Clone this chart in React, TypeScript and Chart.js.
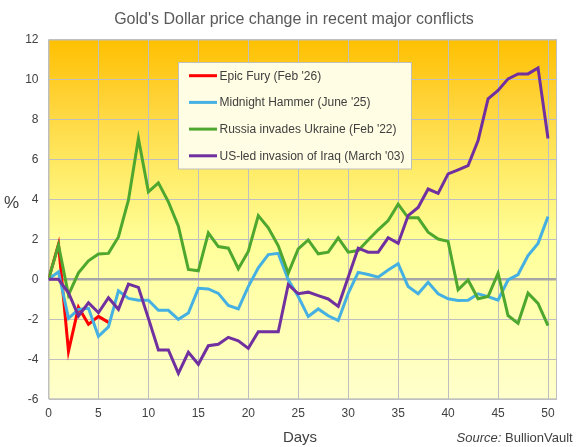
import { useEffect, useRef } from "react";
import { Chart, registerables } from "chart.js";

Chart.register(...registerables);

const TITLE = "Gold's Dollar price change in recent major conflicts";
const Y_TITLE = "%";
const X_TITLE = "Days";
const SOURCE_LABEL = "Source:";
const SOURCE_NAME = " BullionVault";

const SERIES_NAMES = [
  "Epic Fury (Feb '26)",
  "Midnight Hammer (June '25)",
  "Russia invades Ukraine (Feb '22)",
  "US-led invasion of Iraq (March '03)",
];
const SERIES_COLORS = ["#FF0000", "#45B0E1", "#4EA72E", "#7030A0"];

const EPIC_FURY = [0, 1.75, -3.6, -1.4, -2.25, -1.85, -2.15];

const MIDNIGHT_HAMMER = [
  0, 0.38, -1.95, -1.5, -1.45, -2.85, -2.38, -0.57, -0.95, -1.04,
  -1.04, -1.55, -1.55, -2.0, -1.68, -0.45, -0.48, -0.7, -1.3, -1.48,
  -0.36, 0.58, 1.24, 1.3, -0.02, -0.86, -1.86, -1.48, -1.82, -2.06,
  -0.7, 0.35, 0.24, 0.11, 0.47, 0.78, -0.36, -0.72, -0.15, -0.72,
  -0.97, -1.06, -1.04, -0.72, -0.86, -1.04, -0.03, 0.24, 1.19, 1.8,
  3.14,
];

const UKRAINE = [
  0, 1.72, -0.78, 0.33, 0.93, 1.27, 1.3, 2.12, 3.96, 7.05,
  4.38, 4.83, 3.88, 2.66, 0.5, 0.43, 2.32, 1.64, 1.56, 0.53,
  1.4, 3.19, 2.58, 1.68, 0.31, 1.52, 1.97, 1.28, 1.36, 2.08,
  1.36, 1.44, 1.97, 2.48, 2.94, 3.76, 3.08, 3.08, 2.36, 2.02,
  1.9, -0.52, -0.03, -0.97, -0.86, 0.31, -1.81, -2.2, -0.69, -1.2,
  -2.31,
];

const IRAQ = [
  0, 0, -0.67, -1.83, -1.17, -1.67, -0.92, -1.5, -0.24, -0.4,
  -1.95, -3.53, -3.53, -4.7, -3.65, -4.25, -3.32, -3.25, -2.9, -3.07,
  -3.45, -2.62, -2.62, -2.62, -0.26, -0.72, -0.64, -0.81, -0.98, -1.35,
  0.11, 1.56, 1.36, 1.36, 2.08, 1.8, 3.19, 3.6, 4.52, 4.3,
  5.28, 5.48, 5.69, 6.94, 9.03, 9.45, 10.03, 10.28, 10.28, 10.58,
  7.05,
];

const SERIES_VALUES = [EPIC_FURY, MIDNIGHT_HAMMER, UKRAINE, IRAQ];

const X_MIN = 0;
const X_MAX = 50.9;
const X_STEP = 5;
const Y_MIN = -6;
const Y_MAX = 12;
const Y_STEP = 2;

const FONT = '"Liberation Sans", Arial, sans-serif';
const TEXT_COLOR = "#404040";
const GRID_COLOR = "#BFBFBF";

const decorPlugin = {
  id: "decor",
  beforeDraw(chart: any) {
    const { ctx, chartArea } = chart;
    const { left, top, right, bottom } = chartArea;
    ctx.save();
    const g = ctx.createLinearGradient(0, top, 0, bottom);
    g.addColorStop(0, "#FFC000");
    g.addColorStop(0.18, "#FFD43A");
    g.addColorStop(0.36, "#FFEB66");
    g.addColorStop(0.56, "#FFFF99");
    g.addColorStop(1, "#FFFFCC");
    ctx.fillStyle = g;
    ctx.fillRect(left, top, right - left, bottom - top);
    ctx.restore();
  },
  beforeDatasetsDraw(chart: any) {
    const { ctx, chartArea } = chart;
    const { left, top, right, bottom } = chartArea;
    ctx.save();
    ctx.strokeStyle = GRID_COLOR;
    ctx.lineWidth = 1;
    ctx.strokeRect(left + 0.5, top + 0.5, right - left - 1, bottom - top - 1);
    ctx.restore();
  },
  afterDatasetsDraw(chart: any) {
    const { ctx } = chart;
    ctx.save();
    // legend box
    const bx = 178.5;
    const by = 62.5;
    const bw = 233;
    const bh = 106.5;
    ctx.fillStyle = "#FFFDE3";
    ctx.fillRect(bx, by, bw, bh);
    ctx.strokeStyle = GRID_COLOR;
    ctx.lineWidth = 1;
    ctx.strokeRect(bx, by, bw, bh);
    ctx.font = `12px ${FONT}`;
    ctx.textBaseline = "middle";
    ctx.textAlign = "left";
    chart.data.datasets.forEach((ds: any, i: number) => {
      const y = 75.7 + i * 26.7;
      ctx.strokeStyle = ds.borderColor;
      ctx.lineWidth = 3;
      ctx.beginPath();
      ctx.moveTo(189, y);
      ctx.lineTo(217, y);
      ctx.stroke();
      ctx.fillStyle = TEXT_COLOR;
      ctx.fillText(ds.label, 219.5, y + 0.5);
    });
    ctx.restore();
  },
  afterDraw(chart: any) {
    const { ctx } = chart;
    ctx.save();
    ctx.fillStyle = "#595959";
    ctx.textBaseline = "middle";
    ctx.textAlign = "center";
    ctx.font = `16px ${FONT}`;
    ctx.fillText(TITLE, 294, 19.5);

    ctx.fillStyle = TEXT_COLOR;
    ctx.font = `17px ${FONT}`;
    ctx.fillText(Y_TITLE, 11.5, 203);

    ctx.font = `15px ${FONT}`;
    ctx.fillText(X_TITLE, 300, 438);

    ctx.font = `13px ${FONT}`;
    ctx.textAlign = "left";
    const nameW = ctx.measureText(SOURCE_NAME).width;
    ctx.font = `italic 13px ${FONT}`;
    const labW = ctx.measureText(SOURCE_LABEL).width;
    const endX = 572.7;
    const startX = endX - nameW - labW;
    ctx.fillText(SOURCE_LABEL, startX, 438.5);
    ctx.font = `13px ${FONT}`;
    ctx.fillText(SOURCE_NAME, startX + labW, 438.5);
    ctx.restore();
  },
};

export default function App() {
  const canvasRef = useRef<HTMLCanvasElement | null>(null);

  useEffect(() => {
    const canvas = canvasRef.current;
    if (!canvas) return;
    const datasets = SERIES_VALUES.map((vals, si) => ({
      label: SERIES_NAMES[si],
      data: vals.map((v, i) => ({ x: i, y: v })),
      borderColor: SERIES_COLORS[si],
      backgroundColor: SERIES_COLORS[si],
      borderWidth: 3,
      pointRadius: 0,
      pointHoverRadius: 0,
      tension: 0,
      fill: false,
      order: SERIES_VALUES.length - si,
    }));

    const chart = new Chart(canvas, {
      type: "line",
      data: { datasets },
      plugins: [decorPlugin],
      options: {
        animation: false,
        responsive: false,
        devicePixelRatio: 1,
        layout: { padding: { top: 39.5, right: 22, left: 0, bottom: 0 } },
        plugins: {
          legend: { display: false },
          title: { display: false },
          tooltip: { enabled: false },
        },
        scales: {
          x: {
            type: "linear",
            min: X_MIN,
            max: X_MAX,
            afterFit: (scale: any) => {
              scale.height = 47.7;
            },
            ticks: {
              stepSize: X_STEP,
              includeBounds: false,
              padding: 7,
              color: TEXT_COLOR,
              font: { family: FONT, size: 12 },
              maxRotation: 0,
            },
            grid: { color: GRID_COLOR, lineWidth: 1, drawTicks: false },
            border: { display: false },
          },
          y: {
            type: "linear",
            min: Y_MIN,
            max: Y_MAX,
            afterFit: (scale: any) => {
              scale.width = 48.5;
            },
            ticks: {
              stepSize: Y_STEP,
              padding: 10,
              color: TEXT_COLOR,
              font: { family: FONT, size: 12 },
            },
            grid: {
              color: (c: any) => (c.tick && c.tick.value === 0 ? "#A6A6A6" : GRID_COLOR),
              lineWidth: (c: any) => (c.tick && c.tick.value === 0 ? 2.5 : 1),
              drawTicks: false,
            },
            border: { display: false },
          },
        },
      },
    });
    return () => chart.destroy();
  }, []);

  return (
    <div style={{ position: "absolute", left: 0, top: 0, width: 579, height: 447, background: "#FFFFFF" }}>
      <canvas ref={canvasRef} width={579} height={447} />
    </div>
  );
}
